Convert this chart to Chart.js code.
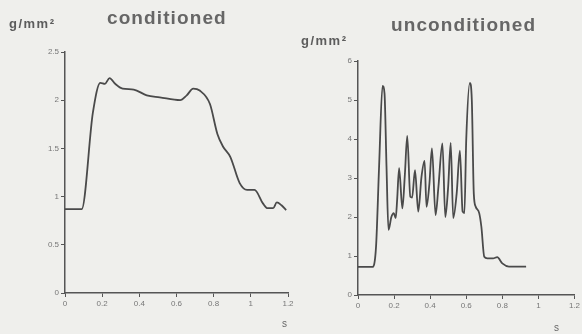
<!DOCTYPE html>
<html>
<head>
<meta charset="utf-8">
<script src="https://cdn.jsdelivr.net/npm/chart.js@4/dist/chart.umd.min.js"></script>
<style>
  html, body { margin: 0; padding: 0; background: #efefec; }
  body { width: 582px; height: 334px; position: relative; overflow: hidden; font-family: "Liberation Sans", Arial, sans-serif; color: #5c5c5c; }
  .box { position: absolute; top: 0; height: 334px; }
  .txt { position: absolute; white-space: nowrap; }
  .unit { font-size: 13px; font-weight: bold; letter-spacing: 1.5px; }
  .head { font-size: 19px; font-weight: bold; color: #666; letter-spacing: 1.1px; }
  .s { font-size: 10px; color: #666; }
</style>
</head>
<body>
<div class="box" style="left:0;width:300px"><canvas id="condChart"></canvas></div>
<div class="box" style="left:290px;width:292px"><canvas id="uncondChart"></canvas></div>

<div class="txt unit" style="left:9px;top:16px">g/mm²</div>
<div class="txt head" style="left:107px;top:7px">conditioned</div>
<div class="txt unit" style="left:301px;top:33px">g/mm²</div>
<div class="txt head" style="left:391px;top:14px">unconditioned</div>
<div class="txt s" style="left:282px;top:318px">s</div>
<div class="txt s" style="left:554px;top:322px">s</div>

<script>
// conditioned trace (time in s, force in g/mm2)
const condTime = [0, 0.09, 0.15, 0.19, 0.215, 0.24, 0.27, 0.31, 0.37, 0.44, 0.51, 0.62,
  0.655, 0.69, 0.725, 0.78, 0.82, 0.85, 0.89, 0.94, 0.98, 1.02, 1.065, 1.09, 1.12, 1.14, 1.165, 1.19];
const condValues = [0.87, 0.87, 1.87, 2.18, 2.17, 2.23, 2.17, 2.12, 2.11, 2.05, 2.03, 2.0,
  2.05, 2.12, 2.1, 1.96, 1.65, 1.52, 1.41, 1.14, 1.07, 1.07, 0.93, 0.88, 0.88, 0.94, 0.91, 0.86];

// unconditioned trace
const uncondTime = [0, 0.08, 0.1, 0.117, 0.136, 0.147, 0.158, 0.169, 0.185, 0.198, 0.209, 0.217,
  0.228, 0.246, 0.26, 0.273, 0.29, 0.3, 0.316, 0.334, 0.352, 0.369, 0.38, 0.396, 0.41, 0.43,
  0.446, 0.468, 0.484, 0.5, 0.514, 0.528, 0.547, 0.565, 0.58, 0.59, 0.6, 0.62, 0.631, 0.642,
  0.653, 0.672, 0.684, 0.7, 0.717, 0.749, 0.772, 0.8, 0.837, 0.932];
const uncondValues = [0.72, 0.72, 1.24, 3.3, 5.36, 5.17, 3.3, 1.67, 2.0, 2.1, 1.97, 2.44,
  3.25, 2.22, 3.1, 4.08, 2.52, 2.5, 3.2, 2.14, 3.03, 3.44, 2.26, 2.86, 3.76, 2.05,
  2.78, 3.89, 2.0, 2.78, 3.9, 1.97, 2.6, 3.7, 2.14, 2.1, 3.97, 5.44, 5.0, 2.6,
  2.26, 2.1, 1.75, 0.98, 0.94, 0.94, 0.97, 0.81, 0.73, 0.73];

const xTicks = [0, 0.2, 0.4, 0.6, 0.8, 1, 1.2];

const tickFont = { family: "'Liberation Sans', Arial, sans-serif", size: 8 };
const axisColor = "#555";

function makeChart(id, times, values, yMax, yStep, pad, yWidth) {
  const ctx = document.getElementById(id).getContext("2d");
  return new Chart(ctx, {
    type: "line",
    data: {
      datasets: [{
        data: times.map((t, i) => ({ x: t, y: values[i] })),
        borderColor: "#4a4a4a",
        borderWidth: 1.8,
        pointRadius: 0,
        cubicInterpolationMode: "monotone",
        fill: false
      }]
    },
    options: {
      responsive: false,
      animation: false,
      layout: { padding: pad },
      plugins: { legend: { display: false }, tooltip: { enabled: false } },
      scales: {
        x: {
          type: "linear",
          min: 0,
          max: 1.2,
          afterBuildTicks: axis => { axis.ticks = xTicks.map(v => ({ value: v })); },
          afterFit: axis => { axis.height = 20; },
          border: { color: axisColor, width: 1.5 },
          grid: { drawOnChartArea: false, tickLength: 4, color: axisColor },
          ticks: { font: tickFont, color: "#777", maxRotation: 0, padding: 2,
            callback: v => String(+v.toFixed(1)) }
        },
        y: {
          min: 0,
          max: yMax,
          afterFit: axis => { axis.width = yWidth; },
          border: { color: axisColor, width: 1.5 },
          grid: { drawOnChartArea: false, tickLength: 4, color: axisColor },
          ticks: { stepSize: yStep, font: tickFont, color: "#777", padding: 2,
            callback: v => String(+v.toFixed(1)) }
        }
      }
    }
  });
}

function setup() {
  const c1 = document.getElementById("condChart");
  c1.width = 300; c1.height = 334;
  const c2 = document.getElementById("uncondChart");
  c2.width = 292; c2.height = 334;
  makeChart("condChart", condTime, condValues, 2.5, 0.5,
    { top: 52, right: 12, bottom: 21, left: 0 }, 65);
  makeChart("uncondChart", uncondTime, uncondValues, 6, 1,
    { top: 61, right: 6, bottom: 19, left: 0 }, 68);
}

setup();
</script>
</body>
</html>
